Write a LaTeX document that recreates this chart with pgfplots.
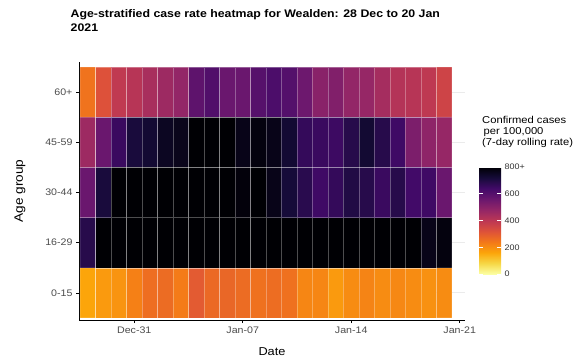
\documentclass[border=0pt]{standalone}
\usepackage{fontspec}
\setmainfont[FakeStretch=1.12]{Liberation Sans}
\usepackage{pgfplots}
\usepackage{pgfplotstable}
\pgfplotsset{compat=1.18}
% reversed inferno: 0 = pale yellow, 800+ = black
\pgfplotsset{colormap={infernor}{rgb255=(252,255,164) rgb255=(246,215,70) rgb255=(252,165,10)
  rgb255=(243,120,25) rgb255=(221,81,58) rgb255=(188,55,84) rgb255=(147,38,103)
  rgb255=(106,23,110) rgb255=(66,10,104) rgb255=(22,11,57) rgb255=(0,0,4)}}
% x = day (0 = 28 Dec), y = age group (1 = 0-15 ... 5 = 60+), c = rate (800 = 800+)
\pgfplotstableread[row sep=\\]{
x y c\\
0 1 160\\ 1 1 180\\ 2 1 190\\ 3 1 225\\ 4 1 260\\ 5 1 265\\ 6 1 235\\ 7 1 300\\
8 1 270\\ 9 1 275\\ 10 1 265\\ 11 1 255\\ 12 1 262\\ 13 1 255\\ 14 1 215\\ 15 1 215\\
16 1 180\\ 17 1 205\\ 18 1 218\\ 19 1 205\\ 20 1 212\\ 21 1 205\\ 22 1 195\\ 23 1 205\\
0 2 690\\ 1 2 800\\ 2 2 800\\ 3 2 800\\ 4 2 800\\ 5 2 800\\ 6 2 800\\ 7 2 800\\
8 2 800\\ 9 2 800\\ 10 2 800\\ 11 2 800\\ 12 2 800\\ 13 2 800\\ 14 2 800\\ 15 2 800\\
16 2 800\\ 17 2 800\\ 18 2 800\\ 19 2 800\\ 20 2 800\\ 21 2 800\\ 22 2 770\\ 23 2 785\\
0 3 560\\ 1 3 715\\ 2 3 800\\ 3 3 800\\ 4 3 800\\ 5 3 800\\ 6 3 800\\ 7 3 800\\
8 3 800\\ 9 3 800\\ 10 3 790\\ 11 3 800\\ 12 3 770\\ 13 3 720\\ 14 3 685\\ 15 3 645\\
16 3 665\\ 17 3 700\\ 18 3 690\\ 19 3 655\\ 20 3 690\\ 21 3 640\\ 22 3 645\\ 23 3 560\\
0 4 460\\ 1 4 560\\ 2 4 655\\ 3 4 715\\ 4 4 730\\ 5 4 755\\ 6 4 765\\ 7 4 800\\
8 4 800\\ 9 4 800\\ 10 4 770\\ 11 4 785\\ 12 4 770\\ 13 4 730\\ 14 4 665\\ 15 4 655\\
16 4 650\\ 17 4 690\\ 18 4 730\\ 19 4 690\\ 20 4 645\\ 21 4 525\\ 22 4 490\\ 23 4 475\\
0 5 250\\ 1 5 320\\ 2 5 390\\ 3 5 410\\ 4 5 440\\ 5 5 460\\ 6 5 480\\ 7 5 585\\
8 5 610\\ 9 5 560\\ 10 5 560\\ 11 5 600\\ 12 5 620\\ 13 5 605\\ 14 5 555\\ 15 5 500\\
16 5 515\\ 17 5 480\\ 18 5 475\\ 19 5 445\\ 20 5 415\\ 21 5 410\\ 22 5 395\\ 23 5 360\\
}\heat
\begin{document}
\begin{tikzpicture}
\path[use as bounding box] (0pt,0pt) rectangle (585pt,362pt);
\node[anchor=base west, inner sep=0, font=\bfseries\fontsize{11}{13}\selectfont] at (70.5pt,344pt)
  {Age-stratified case rate heatmap for Wealden: 28 Dec to 20 Jan};
\node[anchor=base west, inner sep=0, font=\bfseries\fontsize{11}{13}\selectfont] at (70.5pt,330pt) {2021};
\node[anchor=base west, inner sep=0, font=\fontsize{10}{12}\selectfont] at (482pt,239pt) {Confirmed cases};
\node[anchor=base west, inner sep=0, font=\fontsize{10}{12}\selectfont] at (483.5pt,228pt) {per 100,000};
\node[anchor=base west, inner sep=0, font=\fontsize{10}{12}\selectfont] at (482pt,217pt) {(7-day rolling rate)};
\begin{axis}[
    at={(79pt,42pt)}, anchor=south west,
    width=386pt, height=258pt, scale only axis,
    xmin=-0.565, xmax=24.34, ymin=0.46, ymax=5.6,
    axis x line*=bottom, axis y line*=left,
    axis line style={-, line width=0.8pt},
    xtick={3,10,17,24}, xticklabels={Dec-31,Jan-07,Jan-14,Jan-21},
    ytick={1,2,3,4,5}, yticklabels={0-15,16-29,30-44,45-59,60+},
    tick align=outside, major tick length=3pt,
    tick style={black, line width=0.6pt},
    ticklabel style={font=\fontsize{9.5}{11}\selectfont, text=black!70},
    /pgf/number format/assume math mode=true,
    ymajorgrids, grid style={black!8, line width=0.8pt},
    xlabel=Date, ylabel=Age group,
    xlabel style={font=\fontsize{11.4}{13}\selectfont, at={(axis description cs:0.5,0)}, anchor=center, yshift=-32pt},
    ylabel style={font=\fontsize{12.2}{14}\selectfont, at={(axis description cs:-0.153,0.5)}, anchor=center},
    colormap name=infernor, point meta min=0, point meta max=800,
    colorbar, colorbar/width=22pt,
    colorbar style={
        at={(parent axis.south east)}, anchor=south west,
        xshift=5.5pt, yshift=46pt,
        width=22pt, height=107pt, scale only axis,
        ytick={0,200,400,600,800}, yticklabels={0,200,400,600,800+},
        axis line style={draw=none},
        ytick style={draw=white, line width=0.6pt},
        major tick length=4pt, tick align=inside,
        ytick pos=both, yticklabel pos=right,
        yticklabel style={font=\fontsize{8}{9}\selectfont, text=black!80},
        /pgf/number format/assume math mode=true,
    },
]
\addplot[matrix plot*, mesh/cols=24, mesh/rows=5, point meta=explicit,
    draw=white, draw opacity=0.3, line width=0.5pt]
    table[x=x, y=y, meta=c] {\heat};
\end{axis}
\end{tikzpicture}
\end{document}
